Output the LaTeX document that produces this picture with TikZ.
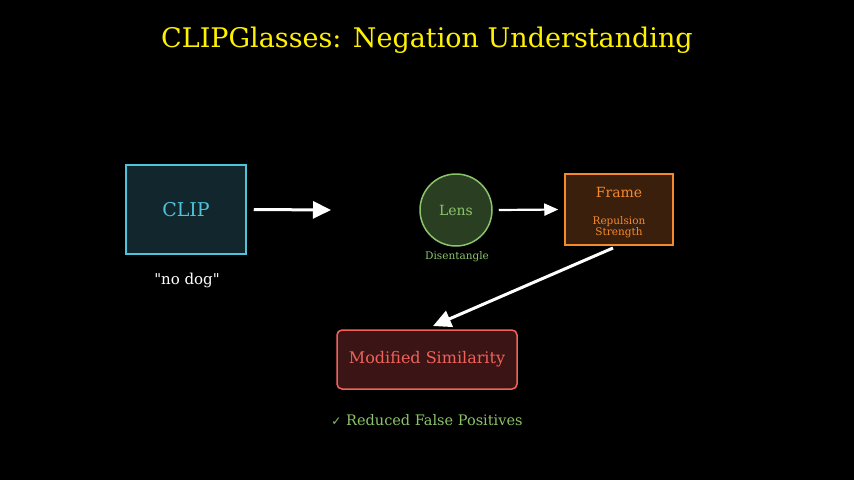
\documentclass[tikz,border=0pt]{standalone}
\usepackage{fontspec}
\setmainfont{DejaVu Serif}[Ligatures=TeXOff]
\newfontfamily\symfont{DejaVu Sans}
\usetikzlibrary{positioning,arrows.meta}
\definecolor{clipcol}{HTML}{4FC3D9}
\definecolor{clipfill}{HTML}{12272D}
\definecolor{lenscol}{HTML}{8BC46A}
\definecolor{lensfill}{HTML}{2A3F22}
\definecolor{framecol}{HTML}{F58A2C}
\definecolor{framefill}{HTML}{3A1F0D}
\definecolor{simcol}{HTML}{F0625A}
\definecolor{simfill}{HTML}{3B1515}
\tikzset{
  flow/.style={white,line width=3pt,-{Triangle[length=18pt,width=17pt]}},
  thin flow/.style={white,line width=2.2pt,-{Triangle[length=14pt,width=12pt]}},
}
\begin{document}
\begin{tikzpicture}[x=1pt,y=-1pt]
  \fill[black] (0,0) rectangle (854,480);
  \useasboundingbox (0,0) rectangle (854,480);
  % title
  \node[yellow,font=\fontsize{27}{30}\selectfont] (title) at (427,40) {CLIPGlasses: Negation Understanding};
  % nodes
  \node[draw=clipcol,fill=clipfill,line width=1.5pt,minimum width=120pt,minimum height=89pt,
        text=clipcol,font=\fontsize{19}{22}\selectfont] (clip) at (186,209.5) {CLIP};
  \node[white,font=\fontsize{15}{18}\selectfont] (query) at (187,280) {"no dog"};
  \coordinate (gap) at (331,210);
  \node[circle,draw=lenscol,fill=lensfill,line width=1.5pt,minimum size=72pt,
        text=lenscol,font=\fontsize{14}{16}\selectfont] (lens) at (456,210) {Lens};
  \node[lenscol,font=\fontsize{10.5}{12}\selectfont] (dis) at (457,257) {Disentangle};
  \node[draw=framecol,fill=framefill,line width=1.5pt,minimum width=108pt,minimum height=71pt] (frame) at (619,209.5) {};
  \node[framecol,font=\fontsize{14}{16}\selectfont] (ftitle) at (619,192) {Frame};
  \node[framecol,font=\fontsize{10.5}{11.5}\selectfont,align=center] (fsub) at (619,227) {Repulsion\\Strength};
  \node[draw=simcol,fill=simfill,line width=1.5pt,rounded corners=5pt,minimum width=180pt,minimum height=59pt,
        text=simcol,font=\fontsize{16}{18}\selectfont] (sim) at (427,359.5) {Modified Similarity};
  \node[lenscol,font=\fontsize{14.5}{17}\selectfont] (result) at (427,420) {{\symfont\fontsize{12}{14}\selectfont ✓} Reduced False Positives};
  % connectors
  \draw[flow] ([xshift=7pt]clip.east) -- (gap);
  \draw[thin flow] ([xshift=6pt]lens.east) -- ([xshift=-6pt]frame.west);
  \coordinate (fout) at (613,248);
  \draw[flow] (fout) -- (433,326);
\end{tikzpicture}
\end{document}
